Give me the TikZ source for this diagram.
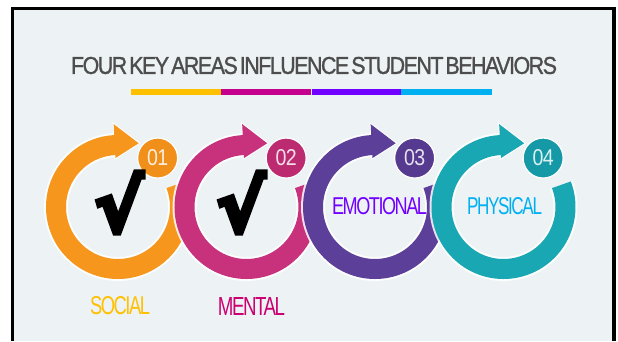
\documentclass[tikz,border=0pt]{standalone}
\usepackage{fontspec}
\newfontfamily\dinfont[LetterSpace=-8]{Liberation Sans}
\newfontfamily\titlefont[LetterSpace=-7,FakeBold=1.2,WordSpace=0.45]{Liberation Sans}
\newfontfamily\numfont[LetterSpace=-4]{Liberation Sans}
\newfontfamily\symfont[FakeBold=7]{DejaVu Sans}
\definecolor{bgc}{HTML}{EDF2F5}
\definecolor{titlec}{HTML}{4D4D4D}
\definecolor{barA}{HTML}{FFC000}
\definecolor{barB}{HTML}{C5008F}
\definecolor{barC}{HTML}{7000FF}
\definecolor{barD}{HTML}{00B0F0}
\definecolor{ringA}{HTML}{F7961C}
\definecolor{ringB}{HTML}{C8317B}
\definecolor{ringC}{HTML}{5C3F99}
\definecolor{ringD}{HTML}{19A7B4}
\definecolor{badgeA}{HTML}{F0901A}
\definecolor{badgeB}{HTML}{BC2A70}
\definecolor{badgeC}{HTML}{553A8F}
\definecolor{badgeD}{HTML}{1599A7}
\definecolor{socialc}{HTML}{FFC000}
\definecolor{mentalc}{HTML}{CC0070}
\definecolor{emoc}{HTML}{7000FF}
\definecolor{physc}{HTML}{00B0F0}
\tikzset{
  txt/.style={inner sep=0pt, outer sep=0pt},
  badge/.style={circle, draw=white, line width=1.2pt, minimum size=40pt, inner sep=0pt},
  halo/.style={draw=white, opacity=.85, line width=24pt},
  ringline/.style={line width=20pt}
}
\begin{document}
\begin{tikzpicture}[x=1pt,y=1pt]
\useasboundingbox (0,0) rectangle (618,341);
\fill[white] (0,0) rectangle (618,341);
\fill[bgc] (14,0) rectangle (612,331);
\fill[black] (11,0) rectangle (14,334);
\fill[black] (11,331) rectangle (616,334);
\fill[black] (612,0) rectangle (616,334);
% title
\node[txt, text=titlec] (title) at (314,275.5)
  {\resizebox{486pt}{17pt}{\titlefont FOUR KEY AREAS INFLUENCE STUDENT BEHAVIORS}};
% colour bar
\fill[barA] (131,246) rectangle (221,252);
\fill[barB] (221,246) rectangle (311,252);
\fill[barC] (312,246) rectangle (401,252);
\fill[barD] (401,246) rectangle (492,252);
% rings
\foreach \i/\cx/\rc/\bc in {1/118/ringA/badgeA, 2/246.5/ringB/badgeB, 3/375/ringC/badgeC, 4/503.5/ringD/badgeD}{
  \coordinate (c\i) at (\cx,134);
  \draw[halo] ([shift={(90:62pt)}]c\i) arc[start angle=90, end angle=381, radius=62pt];
  \filldraw[draw=white, line width=2pt, fill=white] ([shift={(93:49pt)}]c\i) -- ([shift={(93:83pt)}]c\i) -- ([shift={(72:67pt)}]c\i) -- cycle;
  \draw[ringline, \rc] ([shift={(90:62pt)}]c\i) arc[start angle=90, end angle=381, radius=62pt];
  \fill[\rc] ([shift={(93:49pt)}]c\i) -- ([shift={(93:83pt)}]c\i) -- ([shift={(72:67pt)}]c\i) -- cycle;
  \node[badge, fill=\bc] (b\i) at ([shift={(51:63pt)}]c\i) {};
  \node[txt, text=white, text opacity=.85] (n\i) at (b\i) {\resizebox{21pt}{16pt}{\numfont 0\i}};
}
% check marks
\node[txt] (k1) at (119,138.5) {\resizebox*{48pt}{61pt}{\symfont\bfseries √}};
\node[txt] (k2) at (241,138.5) {\resizebox*{48pt}{61pt}{\symfont\bfseries √}};
% labels
\node[txt, text=socialc] (l1) at (120,35) {\resizebox{60pt}{18pt}{\dinfont SOCIAL}};
\node[txt, text=mentalc] (l2) at (251.5,35) {\resizebox{67pt}{18pt}{\dinfont MENTAL}};
\node[txt, text=emoc] (l3) at (379.5,134.5) {\resizebox{95pt}{17pt}{\dinfont EMOTIONAL}};
\node[txt, text=physc] (l4) at (504.5,134.5) {\resizebox{75pt}{17pt}{\dinfont PHYSICAL}};
\end{tikzpicture}
\end{document}
